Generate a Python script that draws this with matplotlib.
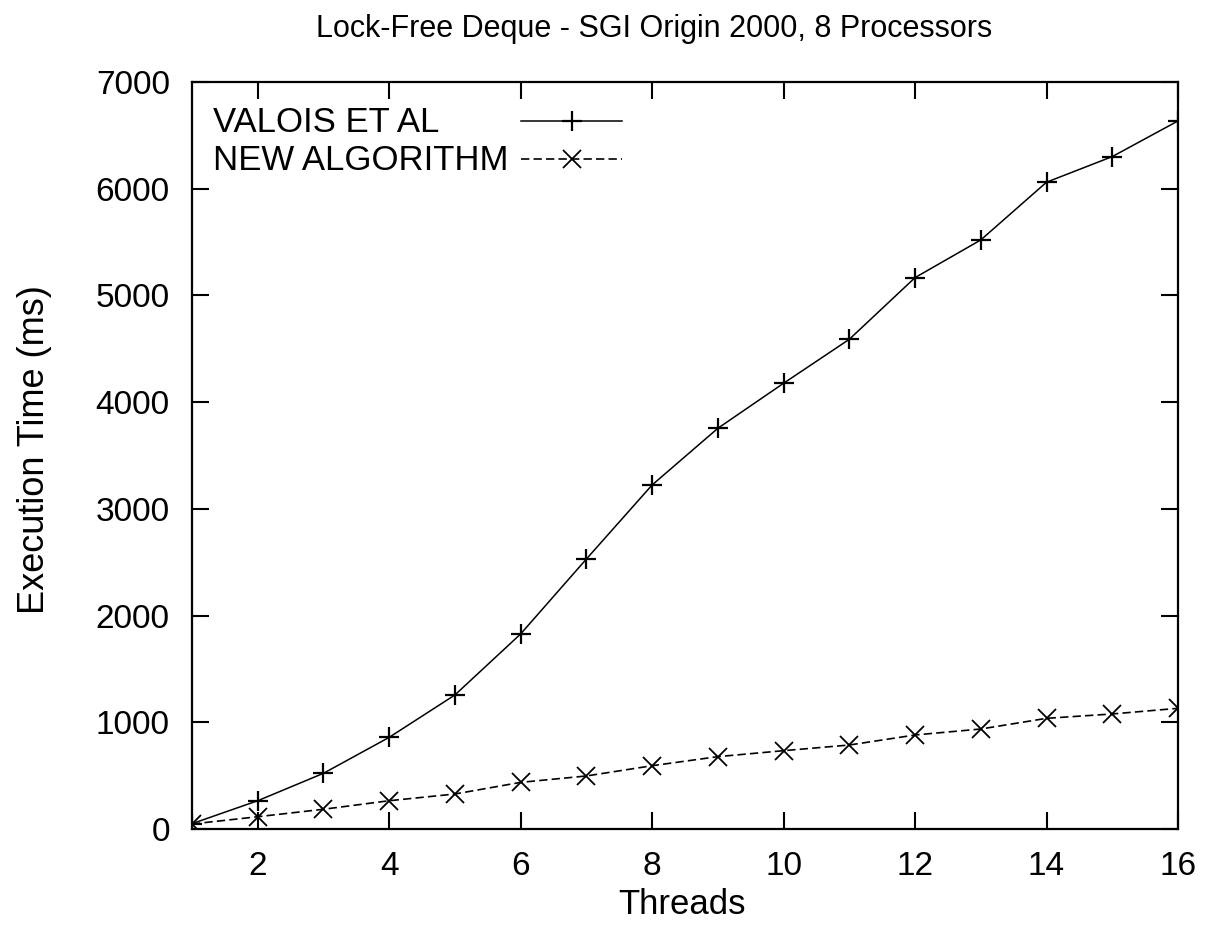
import matplotlib
matplotlib.use("Agg")
import matplotlib.pyplot as plt
from matplotlib.lines import Line2D

threads = list(range(1, 17))
valois = [50, 265, 522, 859, 1256, 1828, 2530, 3224, 3755, 4177, 4589, 5167, 5520, 6061, 6301, 6635]
new_alg = [47, 115, 185, 265, 328, 437, 497, 593, 678, 734, 787, 881, 937, 1037, 1078, 1131]

title = "Lock-Free Deque - SGI Origin 2000, 8 Processors"
xlabel = "Threads"
ylabel = "Execution Time (ms)"
series_labels = ["VALOIS ET AL", "NEW ALGORITHM"]
xticks = [2, 4, 6, 8, 10, 12, 14, 16]
yticks = [0, 1000, 2000, 3000, 4000, 5000, 6000, 7000]

plt.rcParams['font.family'] = ['Liberation Sans', 'DejaVu Sans']

W, H = 1205, 942
fig = plt.figure(figsize=(W / 100, H / 100), dpi=100)
ax = fig.add_axes([192 / W, (H - 829) / H, (1178 - 192) / W, (829 - 82) / H])

styles = [
    dict(color='black', linewidth=1.1, linestyle='-', marker='+',
         markersize=15, markeredgewidth=1.6),
    dict(color='black', linewidth=1.2, linestyle=(0, (5, 2.5)), marker='x',
         markersize=12.5, markeredgewidth=1.3),
]

ax.plot(threads, valois, **styles[0])
ax.plot(threads, new_alg, **styles[1])

ax.set_xlim(1, 16)
ax.set_ylim(0, 7000)
ax.set_xticks(xticks)
ax.set_yticks(yticks)
ax.tick_params(direction='in', length=12, width=1.5, top=True, right=True,
               labelsize=24, pad=16)
for s in ax.spines.values():
    s.set_linewidth(1.6)


def fx(px):
    return px / W


def fy(py):
    return 1 - py / H


fig.text(fx(654), fy(29), title, ha='center', va='center', fontsize=22)
fig.text(fx(682), fy(905), xlabel, ha='center', va='center', fontsize=25)
fig.text(fx(35), fy(450), ylabel, ha='center', va='center', fontsize=26,
         rotation=90)

# legend (gnuplot style: label left-aligned, sample line on the right)
legend_rows = [(132, 121), (170, 159)]
for label, style, (base_y, line_y) in zip(series_labels, styles, legend_rows):
    fig.text(fx(213), fy(base_y), label, ha='left', va='baseline', fontsize=25)
    handle = Line2D([fx(521), fx(571.5), fx(622)], [fy(line_y)] * 3,
                    transform=fig.transFigure, markevery=[1], **style)
    fig.add_artist(handle)

fig.savefig("out.png", dpi=100)
